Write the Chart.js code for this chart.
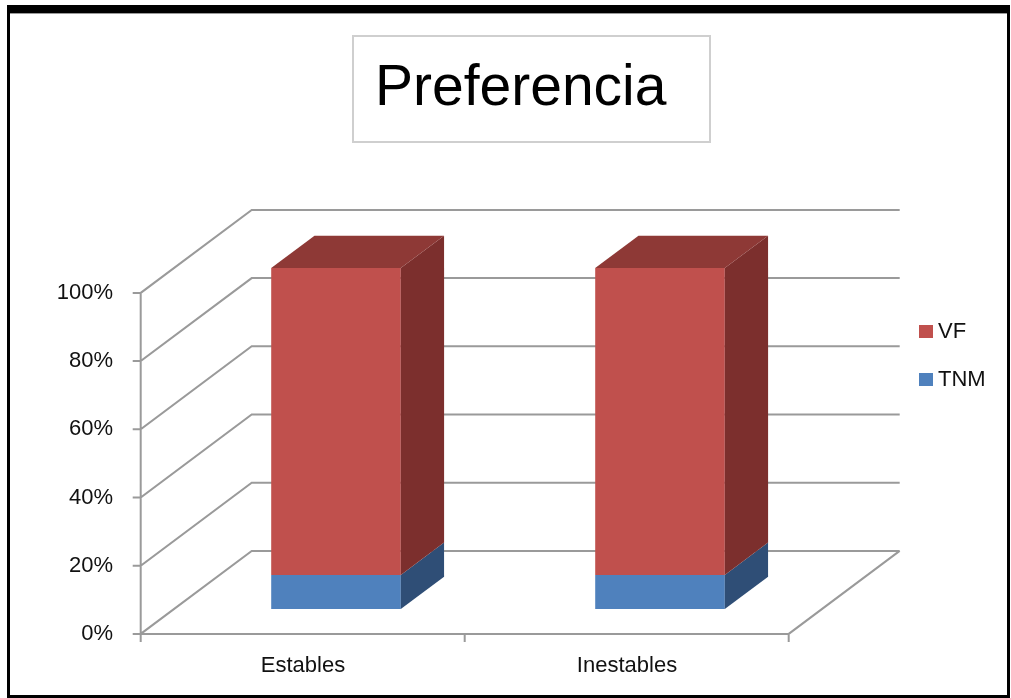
<!DOCTYPE html>
<html>
<head>
<meta charset="utf-8">
<title>Preferencia</title>
<script src="https://cdn.jsdelivr.net/npm/chart.js@4.4.1/dist/chart.umd.min.js"></script>
<style>
  body { margin: 0; background: #fff; }
  canvas { display: block; }
</style>
</head>
<body>
<canvas id="chart" width="1011" height="698"></canvas>
<script>
var chartTitle = 'Preferencia';
var categories = ['Estables', 'Inestables'];
var seriesNames = ['TNM', 'VF'];
var tnmValues = [10, 10];
var vfValues = [90, 90];
var yTicks = [0, 20, 40, 60, 80, 100];

var frontColors = ['#4F81BD', '#C0504D'];
var sideColors = ['#2F4E76', '#7C2F2D'];
var topColors = ['#3E6699', '#8E3936'];

// depth of the 3D box and where the bars sit inside it
var DEPTH_X = 111, DEPTH_Y = -83;
var BAR_FRONT = 0.3, BAR_BACK = 0.69;
var GRID = '#9a9a9a';


var box3d = {
  id: 'box3d',

  beforeDraw: function(chart) {
    var ctx = chart.ctx;
    ctx.save();
    ctx.fillStyle = '#fff';
    ctx.fillRect(0, 0, chart.width, chart.height);
    ctx.restore();
  },

  // walls, floor and gridlines, behind the bars
  beforeDatasetsDraw: function(chart) {
    var ctx = chart.ctx;
    var area = chart.chartArea;
    var y = chart.scales.y;
    var ox = -BAR_FRONT * DEPTH_X, oy = -BAR_FRONT * DEPTH_Y;
    var left = area.left + ox, right = area.right + ox;
    var top = y.getPixelForValue(100) + oy;
    var bottom = y.getPixelForValue(0) + oy;

    ctx.save();
    ctx.strokeStyle = GRID;
    ctx.lineWidth = 2;
    ctx.beginPath();
    yTicks.forEach(function(v) {
      var py = y.getPixelForValue(v) + oy;
      ctx.moveTo(left - 8, py);
      ctx.lineTo(left, py);
      ctx.lineTo(left + DEPTH_X, py + DEPTH_Y);
      ctx.lineTo(right + DEPTH_X, py + DEPTH_Y);
    });
    // front axis
    ctx.moveTo(left, top);
    ctx.lineTo(left, bottom + 8);
    // floor front and right edge
    ctx.moveTo(left, bottom);
    ctx.lineTo(right, bottom);
    ctx.lineTo(right + DEPTH_X, bottom + DEPTH_Y);
    // category ticks
    var step = (right - left) / categories.length;
    for (var k = 1; k <= categories.length; k++) {
      ctx.moveTo(left + k * step, bottom);
      ctx.lineTo(left + k * step, bottom + 8);
    }
    ctx.stroke();
    ctx.restore();
  },

  // side and top faces of the bars
  afterDatasetsDraw: function(chart) {
    var ctx = chart.ctx;
    var dx = (BAR_BACK - BAR_FRONT) * DEPTH_X;
    var dy = (BAR_BACK - BAR_FRONT) * DEPTH_Y;
    var n = chart.data.datasets.length;
    ctx.save();
    for (var d = 0; d < n; d++) {
      var meta = chart.getDatasetMeta(d);
      meta.data.forEach(function(bar) {
        var l = bar.x - bar.width / 2, r = bar.x + bar.width / 2;
        var t = Math.min(bar.y, bar.base), b = Math.max(bar.y, bar.base);
        ctx.fillStyle = sideColors[d];
        ctx.beginPath();
        ctx.moveTo(r, t);
        ctx.lineTo(r + dx, t + dy);
        ctx.lineTo(r + dx, b + dy);
        ctx.lineTo(r, b);
        ctx.closePath();
        ctx.fill();
        if (d === n - 1) {
          ctx.fillStyle = topColors[d];
          ctx.beginPath();
          ctx.moveTo(l, t);
          ctx.lineTo(l + dx, t + dy);
          ctx.lineTo(r + dx, t + dy);
          ctx.lineTo(r, t);
          ctx.closePath();
          ctx.fill();
        }
      });
    }
    ctx.restore();
  },

  // title box, legend and the outer frame
  afterDraw: function(chart) {
    var ctx = chart.ctx;
    ctx.save();

    ctx.strokeStyle = '#cfcfcf';
    ctx.lineWidth = 2;
    ctx.strokeRect(353, 36, 357, 106);
    ctx.fillStyle = '#000';
    ctx.font = '57px "Liberation Sans"';
    ctx.textBaseline = 'alphabetic';
    ctx.fillText(chartTitle, 375, 105);

    ctx.font = '22px "Liberation Sans"';
    var ly = 325;
    for (var d = chart.data.datasets.length - 1; d >= 0; d--) {
      var ds = chart.data.datasets[d];
      ctx.fillStyle = ds.backgroundColor;
      ctx.fillRect(919, ly, 14, 13);
      ctx.fillStyle = '#111';
      ctx.fillText(ds.label, 938, ly + 13);
      ly += 48;
    }

    ctx.fillStyle = '#000';
    ctx.fillRect(7, 5, 1003, 8);
    ctx.fillRect(7, 5, 3, 693);
    ctx.fillRect(1007, 5, 3, 693);
    ctx.fillRect(7, 695, 1003, 3);
    ctx.fillStyle = '#9a9a9a';
    ctx.fillRect(10, 13, 997, 1);
    ctx.restore();
  }
};


document.addEventListener('DOMContentLoaded', function() {
  Chart.defaults.font.family = '"Liberation Sans", Arial, sans-serif';
  Chart.defaults.font.size = 22;
  Chart.defaults.color = '#111';

  new Chart(document.getElementById('chart'), {
    type: 'bar',
    data: {
      labels: categories,
      datasets: [{
        label: seriesNames[0],
        data: tnmValues,
        backgroundColor: frontColors[0]
      }, {
        label: seriesNames[1],
        data: vfValues,
        backgroundColor: frontColors[1]
      }]
    },
    plugins: [box3d],
    options: {
      responsive: false,
      animation: false,
      layout: {
        padding: { top: 268, left: 0, right: 189, bottom: 0 }
      },
      datasets: {
        bar: {
          categoryPercentage: 1,
          barPercentage: 0.4
        }
      },
      plugins: {
        legend: { display: false },
        title: { display: false },
        tooltip: { enabled: false }
      },
      scales: {
        x: {
          stacked: true,
          grid: { display: false, drawTicks: false },
          border: { display: false },
          ticks: {
            padding: 44,
            labelOffset: -33,
            maxRotation: 0
          },
          afterFit: function(scale) {
            scale.height = 89;
          }
        },
        y: {
          stacked: true,
          min: 0,
          max: 100,
          grid: { display: false, drawTicks: false },
          border: { display: false },
          ticks: {
            stepSize: 20,
            padding: 61,
            labelOffset: 25,
            callback: function(v) { return v + '%'; }
          },
          afterFit: function(scale) {
            scale.width = 174;
          }
        }
      }
    }
  });
});
</script>
</body>
</html>
